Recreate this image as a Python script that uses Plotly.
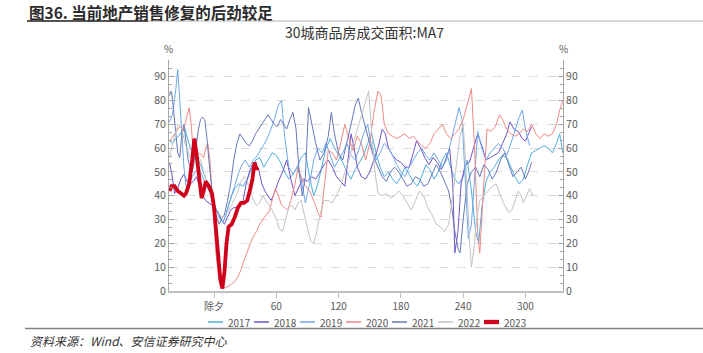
import plotly.graph_objects as go

# ---------------- data (day offset from 除夕, MA7 value %) ----------------
S2017 = [(-43,63),(-40,62),(-37,64),(-34,65),(-31,67),(-28,68),(-25,63),(-22,59),(-19,57),(-16,56),(-13,53),(-10,49),(-7,46),(-4,43),(-1,39),(2,34),(5,31),(8,29),(11,31),(14,36),(17,40),(20,43),(24,45),(28,44),(32,47),(36,51),(40,55),(44,56),(48,52),(52,55),(56,58),(60,57),(64,54),(68,50),(72,47),(76,49),(80,52),(84,56),(88,58),(92,48),(96,40),(100,45),(104,52),(108,60),(112,64),(116,60),(120,57),(124,54),(128,50),(132,47),(136,51),(140,54),(144,57),(148,62),(152,66),(156,58),(160,52),(164,48),(168,50),(172,47),(176,45),(180,48),(184,52),(188,49),(192,46),(196,44),(200,48),(204,53),(208,51),(212,47),(216,50),(220,55),(224,58),(228,52),(232,47),(236,45),(240,48),(244,55),(248,42),(252,25),(255,20),(258,35),(262,46),(266,50),(270,52),(274,55),(278,57),(282,56),(286,52),(290,48),(294,45),(298,47),(302,53),(306,58),(310,59),(314,60),(318,61),(322,60),(326,58),(330,62),(333,66),(336,58)]
S2018 = [(-43,54),(-41,50),(-38,41),(-35,43),(-32,47),(-29,49),(-26,46),(-23,45),(-20,46),(-17,48),(-14,44),(-11,40),(-8,38),(-5,37),(-2,36),(1,35),(4,33),(7,30),(10,28),(13,31),(16,34),(19,35),(22,35),(25,36),(28,38),(31,45),(34,50),(37,53),(40,53),(43,51),(46,45),(49,42),(52,40),(55,38),(58,41),(62,46),(66,50),(70,55),(74,47),(78,40),(82,44),(86,47),(90,46),(94,48),(98,47),(102,50),(106,53),(110,55),(114,52),(118,48),(122,46),(126,44),(129,55),(132,66),(135,60),(138,52),(142,48),(146,47),(150,50),(154,55),(158,60),(162,68),(165,66),(168,60),(172,57),(176,55),(180,54),(184,52),(188,52),(192,58),(195,63),(199,60),(203,56),(207,53),(211,56),(215,54),(219,51),(223,55),(227,60),(230,45),(232,16),(235,25),(238,45),(242,53),(246,54),(250,60),(254,66),(258,61),(262,55),(266,56),(270,57),(274,58),(278,62),(282,66),(285,71),(289,68),(293,67),(297,64),(300,63),(303,66),(306,69)]
S2019 = [(-43,71),(-40,74),(-37,84),(-35,93),(-33,80),(-31,64),(-29,52),(-27,44),(-24,45),(-21,48),(-18,50),(-15,52),(-12,49),(-9,46),(-6,43),(-3,40),(0,37),(3,33),(6,30),(9,29),(12,33),(15,38),(18,42),(21,46),(24,50),(27,53),(30,55),(34,52),(38,55),(42,57),(46,60),(50,63),(54,67),(58,72),(62,78),(65,80),(68,65),(72,52),(76,49),(80,52),(84,47),(88,37),(92,45),(96,55),(100,60),(104,58),(108,62),(112,57),(116,52),(120,55),(124,58),(128,62),(132,57),(136,55),(140,60),(144,66),(148,70),(152,60),(156,55),(160,58),(164,62),(168,60),(172,57),(176,53),(180,50),(184,48),(188,52),(192,55),(196,58),(200,60),(204,57),(208,55),(212,58),(216,55),(220,52),(224,55),(228,62),(232,70),(236,77),(239,72),(242,45),(245,22),(248,28),(251,48),(254,67),(258,60),(262,55),(266,58),(270,60),(274,62),(278,60),(282,57),(286,62),(290,68),(294,73),(297,76),(300,68),(304,61)]
S2020 = [(-43,63),(-41,64),(-38,66),(-35,68),(-32,69),(-30,67),(-28,70),(-26,74),(-24,77),(-22,70),(-20,58),(-18,56),(-16,57),(-14,58),(-12,57),(-10,56),(-8,60),(-6,62),(-4,55),(-2,40),(0,25),(2,15),(4,8),(6,3),(8,1),(11,1.5),(14,2),(17,3),(20,4),(23,6),(26,9),(29,13),(32,17),(35,20),(38,23),(41,25),(44,28),(47,30),(50,32),(53,33),(56,38),(59,43),(62,40),(65,36),(68,35),(71,34),(74,38),(78,45),(81,52),(84,48),(88,44),(92,42),(96,38),(100,33),(103,31),(106,42),(110,59),(114,58),(118,55),(122,62),(126,70),(130,64),(134,59),(138,65),(142,62),(146,55),(150,62),(154,75),(158,84),(161,82),(164,70),(168,66),(172,65),(176,64),(180,65),(184,66),(188,64),(192,65),(196,63),(200,61),(204,60),(208,62),(212,66),(216,68),(220,70),(224,66),(228,64),(232,66),(236,68),(240,72),(244,78),(248,85),(251,60),(254,25),(256,16),(259,40),(263,68),(267,67),(271,69),(275,74),(278,72),(282,68),(286,66),(290,65),(294,66),(298,68),(302,67),(306,70),(310,66),(314,64),(318,66),(322,65),(326,66),(330,70),(333,76),(336,80)]
S2021 = [(-43,82),(-41,84),(-39,76),(-37,66),(-35,58),(-33,56),(-31,66),(-29,70),(-27,63),(-25,55),(-23,52),(-21,50),(-19,55),(-17,62),(-15,68),(-13,72),(-11,73),(-9,72),(-7,65),(-5,55),(-3,45),(-1,38),(1,33),(3,30),(5,28),(7,30),(10,32),(13,38),(16,45),(19,55),(22,62),(25,66),(28,64),(31,62),(34,61),(37,63),(40,66),(43,68),(46,70),(49,72),(52,74),(55,72),(58,70),(61,69),(64,72),(67,70),(70,68),(73,72),(76,75),(79,68),(82,50),(85,40),(88,48),(91,77),(94,70),(98,62),(102,55),(106,58),(110,65),(113,75),(116,66),(120,58),(124,55),(128,62),(132,70),(136,78),(139,81),(142,75),(146,68),(150,62),(154,56),(158,52),(162,48),(166,46),(170,50),(174,52),(178,50),(182,47),(186,44),(190,45),(194,48),(198,47),(202,44),(206,45),(210,49),(214,53),(218,50),(222,46),(226,42),(229,35),(232,25),(235,18),(237,16),(240,30),(244,45),(248,50),(252,52),(256,48),(260,53),(264,51),(268,47),(272,50),(276,55),(280,58),(284,53),(288,48),(292,50),(296,52),(300,47),(303,50),(306,54)]
S2022 = [(-43,56),(-40,62),(-37,67),(-34,70),(-31,68),(-28,62),(-25,58),(-22,55),(-19,53),(-16,57),(-13,55),(-10,50),(-7,45),(-4,40),(-1,36),(2,33),(5,32),(8,31),(11,32),(14,34),(17,36),(20,39),(23,42),(26,46),(29,48),(32,46),(35,42),(38,38),(41,36),(44,37),(47,40),(50,38),(53,36),(56,34),(60,30),(63,26),(66,25),(69,30),(72,35),(75,36),(78,34),(81,37),(84,38),(87,32),(90,26),(93,21),(96,20),(99,25),(102,32),(106,38),(110,38),(114,37),(118,40),(122,44),(126,50),(130,55),(134,62),(138,68),(142,74),(146,80),(149,84),(152,66),(155,50),(158,41),(162,40),(166,41),(170,39),(174,40),(178,42),(182,40),(186,37),(190,34),(194,38),(198,42),(202,40),(206,35),(210,32),(214,28),(218,27),(222,25),(226,28),(230,40),(234,55),(237,65),(240,70),(243,50),(246,22),(248,10),(251,20),(253,30),(256,38),(260,40),(264,42),(268,44),(272,45),(276,40),(280,36),(284,33),(287,34),(290,38),(293,42),(296,40),(298,37),(301,40),(304,43),(307,40)]
S2023 = [(-43,42),(-41,44),(-38,44),(-35,42),(-32,41),(-29,40),(-27,41),(-24,45),(-21,55),(-19,64),(-17,58),(-14,48),(-12,39),(-10,42),(-8,46),(-5,44),(-2,41),(0,35),(2,25),(4,14),(6,5),(8,1),(10,8),(12,20),(14,27),(17,28),(20,31),(23,35),(26,37),(29,37),(32,38),(35,43),(37,47),(39,54),(41,51),(42,52)]

years = ["2017", "2018", "2019", "2020", "2021", "2022", "2023"]
series = [S2017, S2018, S2019, S2020, S2021, S2022, S2023]
colors = ["#4FAEDF", "#7252C8", "#6FA8EA", "#F08985", "#6878B8", "#C3C3C3", "#D0021B"]
widths = [1, 1, 1, 1, 1, 1, 3.8]

x_tickvals = [0, 60, 120, 180, 240, 300]
x_ticktext = ["除夕", "60", "120", "180", "240", "300"]
y_tickvals = [0, 10, 20, 30, 40, 50, 60, 70, 80, 90]

W, H = 703, 353
L, R, T, B = 169, 140, 60, 62
PW, PH = W - L - R, H - T - B


def xp(px):
    return (px - L) / PW


def yp(py):
    return (H - B - py) / PH


FONT = "Noto Sans CJK SC, Noto Sans, sans-serif"
GREY = "#595959"

fig = go.Figure()
for name, s, c, w in zip(years, series, colors, widths):
    fig.add_trace(go.Scatter(
        x=[p[0] for p in s], y=[p[1] for p in s], mode="lines", name=name,
        line=dict(color=c, width=w), showlegend=False))
# helper trace so the mirrored right axis is rendered
fig.add_trace(go.Scatter(x=[None], y=[None], yaxis="y2", showlegend=False, hoverinfo="skip"))

yax = dict(range=[0, 97], tickvals=y_tickvals, ticks="inside", ticklen=5, tickcolor="#A6A6A6",
           showline=True, linecolor="#A6A6A6", linewidth=1,
           minor=dict(dtick=10/3, tick0=0, ticks="inside", ticklen=3, tickcolor="#A6A6A6", showgrid=False),
           tickfont=dict(family=FONT, size=10.5, color=GREY), zeroline=False)

fig.update_layout(
    width=W, height=H, margin=dict(l=L, r=R, t=T, b=B),
    paper_bgcolor="white", plot_bgcolor="white",
    font=dict(family=FONT, color=GREY),
    xaxis=dict(range=[-43.4, 336.2], tickvals=x_tickvals, ticktext=x_ticktext,
               ticks="outside", ticklen=5, tickcolor="#BFBFBF",
               showline=True, linecolor="#BFBFBF", linewidth=1.5,
               showgrid=False, zeroline=False,
               tickfont=dict(family=FONT, size=10, color=GREY)),
    yaxis=dict(**yax, showgrid=True, gridcolor="#DCDCDC", griddash="dash", gridwidth=1, side="left"),
    yaxis2=dict(**yax, overlaying="y", side="right", showgrid=False, anchor="x"),
    showlegend=False,
)

ann = []
shapes = []
# header title and rule
ann.append(dict(text="<b>图36. 当前地产销售修复的后劲较足</b>", x=xp(27), y=yp(12), xref="paper", yref="paper",
                xanchor="left", yanchor="middle", showarrow=False,
                font=dict(family=FONT, size=15.5, color="#2B2B2B")))
shapes.append(dict(type="line", xref="paper", yref="paper", x0=xp(27), x1=xp(703), y0=yp(21), y1=yp(21),
                   line=dict(color="#B0B0B0", width=1)))
shapes.append(dict(type="line", xref="paper", yref="paper", x0=xp(27), x1=xp(148), y0=yp(21), y1=yp(21),
                   line=dict(color="#555555", width=2)))
# chart title
ann.append(dict(text="30城商品房成交面积:MA7", x=xp(364), y=yp(32), xref="paper", yref="paper",
                xanchor="center", yanchor="middle", showarrow=False,
                font=dict(family=FONT, size=14, color="#333333")))
# unit labels
for px in (168, 563):
    ann.append(dict(text="%", x=xp(px), y=yp(48), xref="paper", yref="paper", xanchor="center",
                    yanchor="middle", showarrow=False, font=dict(family=FONT, size=10, color=GREY)))
# legend
for i, (name, c, w) in enumerate(zip(years, colors, widths)):
    x0 = 208 + 46 * i
    shapes.append(dict(type="line", xref="paper", yref="paper", x0=xp(x0), x1=xp(x0 + 15),
                       y0=yp(322), y1=yp(322), line=dict(color=c, width=max(w + 0.5, 1.5) if w > 1 else 1.5)))
    ann.append(dict(text=name, x=xp(x0 + 18), y=yp(322), xref="paper", yref="paper", xanchor="left",
                    yanchor="middle", showarrow=False, font=dict(family=FONT, size=10, color=GREY)))
# footer
shapes.append(dict(type="line", xref="paper", yref="paper", x0=xp(25), x1=xp(703), y0=yp(328.5), y1=yp(328.5),
                   line=dict(color="#808080", width=1.5)))
ann.append(dict(text="<i>资料来源：Wind、安信证券研究中心</i>", x=xp(28), y=yp(340), xref="paper", yref="paper",
                xanchor="left", yanchor="middle", showarrow=False,
                font=dict(family=FONT, size=12, color="#333333")))

fig.update_layout(annotations=ann, shapes=shapes)
fig.write_html("out.html")
